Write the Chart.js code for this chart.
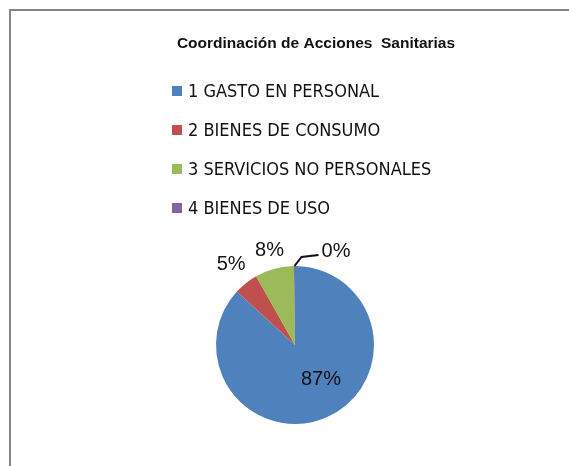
<!DOCTYPE html>
<html>
<head>
<meta charset="utf-8">
<script src="https://cdn.jsdelivr.net/npm/chart.js@4"></script>
<style>
  html, body { margin: 0; padding: 0; background: #fff; }
  #wrap { position: relative; width: 569px; height: 466px; overflow: hidden; }
  #frame { position: absolute; left: 9px; top: 9px; right: -10px; bottom: -10px;
           border-left: 2px solid #858585; border-top: 2px solid #858585; }
  canvas { position: absolute; left: 0; top: 0; }
</style>
</head>
<body>
<div id="wrap">
  <div id="frame"></div>
  <canvas id="pieChart" width="569" height="466"></canvas>
</div>
<script>
// Chart data
const chartTitle = 'Coordinación de Acciones  Sanitarias';
const categories = ['1 GASTO EN PERSONAL', '2 BIENES DE CONSUMO', '3 SERVICIOS NO PERSONALES', '4 BIENES DE USO'];
const values = [87, 5, 8, 0.2];
const colors = ['#4F81BD', '#C0504D', '#9BBB59', '#8064A2'];

const textFont = "'Liberation Sans Narrow', 'DejaVu Sans Condensed', 'Liberation Sans', sans-serif";

// title + legend drawn above the pie
const headerPlugin = {
  id: 'header',
  afterDraw(chart) {
    const ctx = chart.ctx;
    ctx.save();
    ctx.fillStyle = '#111';
    ctx.textBaseline = 'middle';
    ctx.textAlign = 'center';
    ctx.font = "bold 15.5px 'Liberation Sans', sans-serif";
    ctx.fillText(chartTitle, 316, 44);

    ctx.textAlign = 'left';
    ctx.font = '18px ' + textFont;
    categories.forEach((cat, i) => {
      const y = 91 + i * 39;
      ctx.fillStyle = colors[i];
      ctx.fillRect(172, y - 5, 10, 10);
      ctx.fillStyle = '#111';
      ctx.fillText(cat, 188, y + 1);
    });
    ctx.restore();
  }
};

// percentage labels
const labelRadius = [0.55, 1.3, 1.24];
const labelShift = [-13, 0, 0]; // degrees
const pctPlugin = {
  id: 'pctLabels',
  afterDatasetsDraw(chart) {
    const ctx = chart.ctx;
    const meta = chart.getDatasetMeta(0);
    const total = values.reduce((a, b) => a + b, 0);
    ctx.save();
    ctx.font = "20px 'Liberation Sans', sans-serif";
    ctx.fillStyle = '#111';
    ctx.textAlign = 'center';
    ctx.textBaseline = 'middle';
    meta.data.forEach((arc, i) => {
      const p = arc.getProps(['x', 'y', 'startAngle', 'endAngle', 'outerRadius'], true);
      const mid = (p.startAngle + p.endAngle) / 2;
      const txt = Math.round(values[i] / total * 100) + '%';
      if (i < labelRadius.length) {
        const r = p.outerRadius * labelRadius[i];
        const a = mid + labelShift[i] * Math.PI / 180;
        ctx.fillText(txt, p.x + Math.cos(a) * r, p.y + Math.sin(a) * r);
      } else {
        // tiny slice: leader line
        const sx = p.x + Math.cos(mid) * p.outerRadius;
        const sy = p.y + Math.sin(mid) * p.outerRadius;
        ctx.strokeStyle = '#111';
        ctx.lineWidth = 2;
        ctx.beginPath();
        ctx.moveTo(sx, sy);
        ctx.lineTo(sx + 7, sy - 9);
        ctx.lineTo(sx + 24, sy - 11);
        ctx.stroke();
        ctx.textAlign = 'left';
        ctx.fillText(txt, sx + 27, sy - 15);
      }
    });
    ctx.restore();
  }
};

new Chart(document.getElementById('pieChart'), {
  type: 'pie',
  data: {
    labels: categories,
    datasets: [{
      data: values,
      backgroundColor: colors,
      borderWidth: 0
    }]
  },
  options: {
    responsive: false,
    animation: false,
    layout: {
      padding: { left: 216, right: 195, top: 266, bottom: 42 }
    },
    plugins: {
      legend: { display: false },
      title: { display: false },
      tooltip: { enabled: false }
    }
  },
  plugins: [headerPlugin, pctPlugin]
});
</script>
</body>
</html>
